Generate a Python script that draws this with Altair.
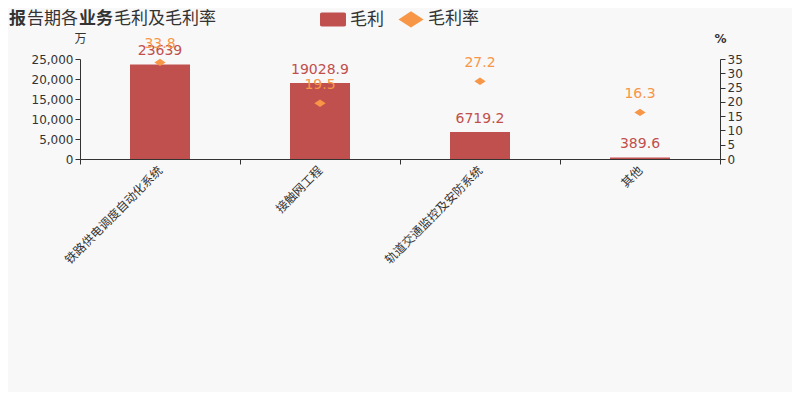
import altair as alt
import pandas as pd

categories = ["铁路供电调度自动化系统", "接触网工程", "轨道交通监控及安防系统", "其他"]
profit = [23639, 19028.9, 6719.2, 389.6]
profit_labels = ["23639", "19028.9", "6719.2", "389.6"]
rate = [33.8, 19.5, 27.2, 16.3]
rate_labels = ["33.8", "19.5", "27.2", "16.3"]

RED = "#c0504d"
ORANGE = "#f79646"
FONT = "DejaVu Sans, Noto Sans CJK SC"
TXT = "#333333"

bar_df = pd.DataFrame({"cat": categories, "v": profit, "lab": profit_labels, "s": "毛利"})
pt_df = pd.DataFrame({"cat": categories, "r": rate, "lab": rate_labels, "s": "毛利率"})

xenc = alt.X("cat:N", sort=categories, title=None,
             scale=alt.Scale(paddingInner=0, paddingOuter=0),
             axis=alt.Axis(labelAngle=-45, labelAlign="right", labelBaseline="middle",
                           tickBand="extent", labelFontSize=12, labelColor=TXT,
                           domainColor=TXT, tickColor=TXT, labelPadding=4))

color_scale = alt.Scale(domain=["毛利", "毛利率"], range=[RED, ORANGE])
shape_scale = alt.Scale(domain=["毛利", "毛利率"],
                        range=["M-1.3,-0.8 H1.3 A0.2,0.2 0 0 1 1.5,-0.6 V0.6 A0.2,0.2 0 0 1 1.3,0.8 H-1.3 A0.2,0.2 0 0 1 -1.5,0.6 V-0.6 A0.2,0.2 0 0 1 -1.3,-0.8 Z",
                               "M0,-0.95 L1.45,0 L0,0.95 L-1.45,0 Z"])
leg = alt.Legend(title=None, orient="none", legendX=244, legendY=-49, direction="horizontal",
                 labelFontSize=17, labelColor=TXT, labelFont=FONT, symbolSize=300,
                 symbolStrokeWidth=0, columnPadding=14, labelOffset=8)

yL_scale = alt.Scale(domain=[0, 25000])
yR_scale = alt.Scale(domain=[0, 35])
yL_axis = alt.Axis(orient="left", values=[0, 5000, 10000, 15000, 20000, 25000],
                   labelExpr="format(datum.value, ',.0f')",
                   grid=False, titleAngle=0, titleX=0, titleY=-21, titleAlign="center",
                   titleBaseline="middle",
                   titleFontWeight="normal", titleFontSize=12, titleColor=TXT,
                   labelFontSize=12, labelColor=TXT, domainColor=TXT, tickColor=TXT)
yR_axis = alt.Axis(orient="right", values=[0, 5, 10, 15, 20, 25, 30, 35],
                   labelExpr="format(datum.value, 'd')",
                   grid=False, titleAngle=0, titleX=0, titleY=-21, titleAlign="center",
                   titleBaseline="middle",
                   titleFontWeight="bold", titleFontSize=12, titleColor=TXT,
                   labelFontSize=12, labelColor=TXT, domainColor=TXT, tickColor=TXT)

yL = alt.Y("v:Q", title="万", scale=yL_scale, axis=yL_axis)
yR = alt.Y("r:Q", title="%", scale=yR_scale, axis=yR_axis)

bars = alt.Chart(bar_df).mark_bar(size=60, color=RED).encode(
    x=xenc, y=yL,
    color=alt.Color("s:N", scale=color_scale, legend=leg))
bar_text = alt.Chart(bar_df).mark_text(dy=-13, fontSize=14, color=RED, font=FONT).encode(
    x=xenc, y=yL, text="lab:N")
left = alt.layer(bars, bar_text)

pts = alt.Chart(pt_df).mark_point(filled=True, size=60, opacity=1, shape="diamond").encode(
    x=xenc, y=yR,
    color=alt.Color("s:N", scale=color_scale, legend=leg),
    shape=alt.Shape("s:N", scale=shape_scale, legend=leg))
pt_text = alt.Chart(pt_df).mark_text(dy=-18, fontSize=14, color=ORANGE, font=FONT).encode(
    x=xenc, y=yR, text="lab:N")
right = alt.layer(pts, pt_text)

tdf = pd.DataFrame({"a": [0]})
def ttext(t, x, bold):
    return alt.Chart(tdf).mark_text(text=t, align="left", baseline="middle", fontSize=17,
                                    fontWeight="bold" if bold else "normal", color=TXT,
                                    font=FONT).encode(x=alt.value(x), y=alt.value(-40))
titles = alt.layer(ttext("报", -71, True), ttext("告期各", -53, False),
                   ttext("业务", -1, True), ttext("毛利及毛利率", 34, False))

chart = alt.layer(left, right, titles).resolve_scale(y="independent").properties(
    width=640, height=100, autosize="none",
    padding={"left": 72, "top": 51, "right": 72, "bottom": 233},
    background="#f8f8f8"
).configure_view(stroke=None).configure_axis(labelFont=FONT, titleFont=FONT)

chart.save("out.html", embed_options={"renderer": "svg", "actions": False})
